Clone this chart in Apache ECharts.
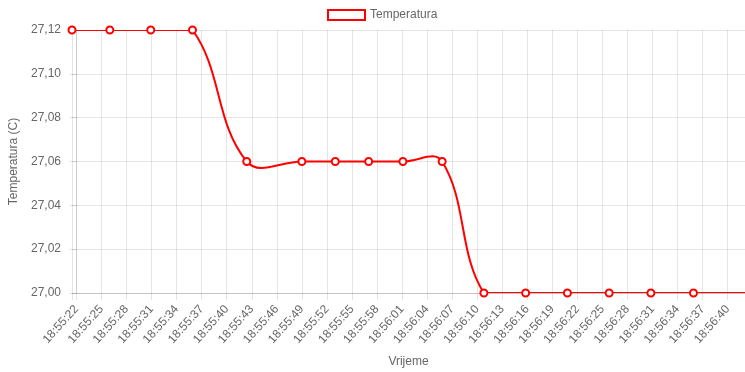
<!DOCTYPE html>
<html>
<head>
<meta charset="utf-8">
<script src="https://cdn.jsdelivr.net/npm/echarts@6/dist/echarts.min.js"></script>
<style>
  html, body { margin: 0; padding: 0; background: #fff; }
  #chart { width: 745px; height: 372px; }
</style>
</head>
<body>
<div id="chart"></div>
<script>
// Temperature readings (time of reading, degrees C)
const seriesName = 'Temperatura';
const readingTimes = [
  '18:55:21.47', '18:55:26.0', '18:55:30.9', '18:55:35.9', '18:55:42.4',
  '18:55:49.0', '18:55:53.0', '18:55:57.0', '18:56:01.1', '18:56:05.8',
  '18:56:10.8', '18:56:15.8', '18:56:20.8', '18:56:25.8', '18:56:30.8',
  '18:56:35.9', '18:56:46.0'
];
const temperatures = [
  27.12, 27.12, 27.12, 27.12, 27.06,
  27.06, 27.06, 27.06, 27.06, 27.06,
  27.00, 27.00, 27.00, 27.00, 27.00,
  27.00, 27.00
];

// Time axis ticks, every 3 seconds
const timeTicks = [
  '18:55:22', '18:55:25', '18:55:28', '18:55:31', '18:55:34', '18:55:37',
  '18:55:40', '18:55:43', '18:55:46', '18:55:49', '18:55:52', '18:55:55',
  '18:55:58', '18:56:01', '18:56:04', '18:56:07', '18:56:10', '18:56:13',
  '18:56:16', '18:56:19', '18:56:22', '18:56:25', '18:56:28', '18:56:31',
  '18:56:34', '18:56:37', '18:56:40'
];
const axisStart = '18:55:21.47';
const axisEnd = '18:56:42.07';

// Temperature axis
const tempMin = 27.00;
const tempMax = 27.12;
const tempStep = 0.02;

const FONT = 'Liberation Sans, Arial, Helvetica, sans-serif';
const TEXT = '#666';
const GRID_LINE = 'rgba(0,0,0,0.1)';
const RED = '#ff0000';
const TENSION = 0.4;

function toSeconds(s) {
  const p = s.split(':');
  return (+p[0]) * 3600 + (+p[1]) * 60 + parseFloat(p[2]);
}
// x values are seconds counted from the first tick
const origin = toSeconds(timeTicks[0]);
const rel = s => toSeconds(s) - origin;
const pad = n => (n < 10 ? '0' : '') + n;
function clock(v) {
  const t = Math.round(origin + v);
  return pad(Math.floor(t / 3600)) + ':' + pad(Math.floor((t % 3600) / 60)) + ':' + pad(t % 60);
}

const points = readingTimes.map((t, i) => [rel(t), temperatures[i]]);
const tickValues = timeTicks.map(rel);

// Cardinal-style bezier through the pixel positions (tension 0.4),
// control points kept inside the plotting area.
function curvePath(px, area) {
  const capX = v => Math.max(area.x, Math.min(area.x + area.width, v));
  const capY = v => Math.max(area.y, Math.min(area.y + area.height, v));
  const cps = px.map((p, i) => {
    const prev = px[i - 1] || p;
    const next = px[i + 1] || p;
    const d01 = Math.hypot(p[0] - prev[0], p[1] - prev[1]);
    const d12 = Math.hypot(next[0] - p[0], next[1] - p[1]);
    let s01 = d01 / (d01 + d12), s12 = d12 / (d01 + d12);
    if (isNaN(s01)) s01 = 0;
    if (isNaN(s12)) s12 = 0;
    const fa = s01 * TENSION, fb = s12 * TENSION;
    const dx = next[0] - prev[0], dy = next[1] - prev[1];
    return {
      inX: capX(p[0] - fa * dx), inY: capY(p[1] - fa * dy),
      outX: capX(p[0] + fb * dx), outY: capY(p[1] + fb * dy)
    };
  });
  let d = 'M' + px[0][0] + ' ' + px[0][1];
  for (let i = 1; i < px.length; i++) {
    const a = cps[i - 1], b = cps[i];
    d += ' C' + a.outX + ' ' + a.outY + ' ' + b.inX + ' ' + b.inY + ' ' + px[i][0] + ' ' + px[i][1];
  }
  return d;
}

const chart = echarts.init(document.getElementById('chart'), null, { renderer: 'canvas' });
chart.setOption({
  animation: false,
  textStyle: { fontFamily: FONT },
  legend: {
    data: [{ name: seriesName }],
    left: 327,
    top: 9,
    padding: 0,
    icon: 'rect',
    itemWidth: 37,
    itemHeight: 10,
    itemStyle: { color: '#fff', borderColor: RED, borderWidth: 2 },
    textStyle: { color: TEXT, fontSize: 12, fontFamily: FONT },
    selectedMode: false
  },
  grid: { left: 72, right: 0, top: 30, bottom: 79, containLabel: false, outerBoundsMode: 'none' },
  xAxis: {
    type: 'value',
    min: rel(axisStart),
    max: rel(axisEnd),
    name: 'Vrijeme',
    nameLocation: 'middle',
    nameGap: 63,
    nameTextStyle: { color: TEXT, fontSize: 12, fontFamily: FONT },
    axisLine: { show: true, lineStyle: { color: 'rgba(0,0,0,0.15)', width: 1 } },
    axisTick: {
      show: true, length: 7, inside: false,
      customValues: [rel(axisStart)].concat(tickValues),
      lineStyle: { color: GRID_LINE }
    },
    axisLabel: {
      customValues: tickValues,
      rotate: 48,
      margin: 14,
      color: TEXT,
      fontSize: 12,
      fontFamily: FONT,
      formatter: v => clock(v)
    },
    splitLine: { show: true, lineStyle: { color: GRID_LINE, width: 1 } }
  },
  yAxis: {
    type: 'value',
    min: tempMin,
    max: tempMax,
    interval: tempStep,
    name: 'Temperatura (C)',
    nameLocation: 'middle',
    nameGap: 47,
    nameTextStyle: { color: TEXT, fontSize: 12, fontFamily: FONT },
    axisLine: { show: true, lineStyle: { color: GRID_LINE, width: 1 } },
    axisTick: { show: true, length: 7, lineStyle: { color: GRID_LINE } },
    axisLabel: {
      margin: 11,
      color: TEXT,
      fontSize: 12,
      fontFamily: FONT,
      formatter: v => v.toFixed(2).replace('.', ',')
    },
    splitLine: { show: true, lineStyle: { color: GRID_LINE, width: 1 } }
  },
  series: [
    {
      // the temperature curve
      name: seriesName + ' curve',
      type: 'custom',
      clip: true,
      silent: true,
      data: points,
      renderItem: function (params, api) {
        if (params.dataIndex !== 0) return null;
        const px = points.map(p => api.coord(p));
        return {
          type: 'path',
          shape: { pathData: curvePath(px, params.coordSys) },
          style: { stroke: RED, lineWidth: 2, fill: 'none' }
        };
      }
    },
    {
      // reading markers
      name: seriesName,
      type: 'line',
      data: points,
      clip: true,
      symbol: 'circle',
      symbolSize: 7,
      showSymbol: true,
      itemStyle: { color: '#fff', borderColor: RED, borderWidth: 2 },
      lineStyle: { opacity: 0, width: 0 },
      emphasis: { disabled: true }
    }
  ]
});
</script>
</body>
</html>
